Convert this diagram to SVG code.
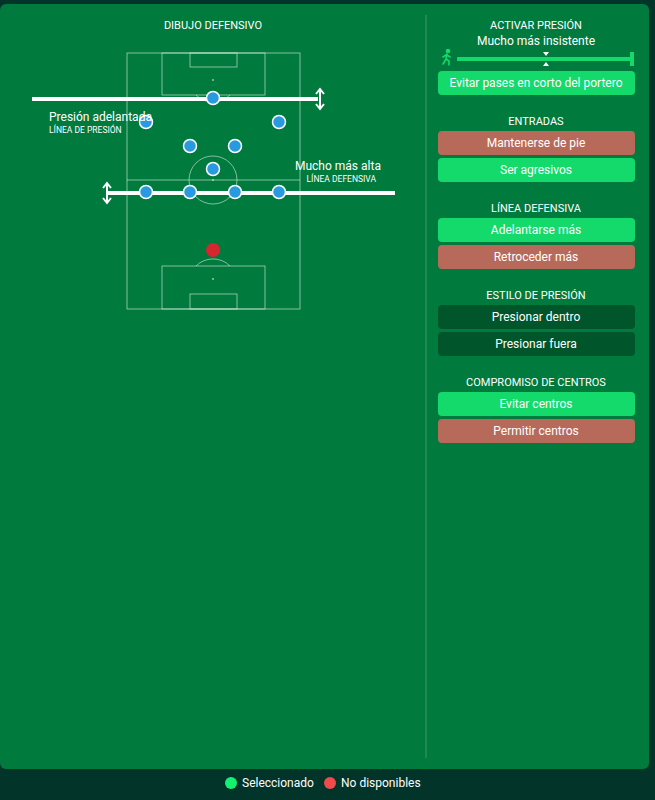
<svg xmlns="http://www.w3.org/2000/svg" width="655" height="800" viewBox="0 0 655 800">
<style>
text{font-family:Roboto,"Liberation Sans",sans-serif;fill:#fff}
.h{font-size:11px;text-anchor:middle}
.b{font-size:12px;text-anchor:middle}
.pl{fill:none;stroke:#cfe6d6;stroke-width:0.8;opacity:0.8}
.g{fill:#14d96b}.r{fill:#b86a5a}.d{fill:#00552a}
.p{fill:#2a9ae0;stroke:#fff;stroke-width:1.5}
.ln{stroke:#fff;stroke-width:4}
</style>
<rect width="655" height="800" fill="#02342a"/>
<rect x="0" y="4" width="649" height="765" rx="6" fill="#007a3d"/>
<line x1="426" y1="15" x2="426" y2="758" stroke="#3a9a66" stroke-width="1"/>
<g id="pitch">
<rect class="pl" x="127" y="53" width="173" height="256"/>
<line class="pl" x1="127" y1="180" x2="300" y2="180"/>
<circle class="pl" cx="213" cy="180" r="24"/>
<rect class="pl" x="162" y="53" width="103" height="42"/>
<rect class="pl" x="190" y="53" width="47" height="14"/>
<path class="pl" d="M196 95 A24 24 0 0 0 230 95"/>
<rect class="pl" x="162" y="266" width="103" height="43"/>
<rect class="pl" x="190" y="294" width="47" height="15"/>
<path class="pl" d="M196 266 A24 24 0 0 1 230 266"/>
<circle cx="213" cy="80" r="0.8" fill="#fff"/><circle cx="213" cy="180" r="0.8" fill="#fff"/><circle cx="213" cy="279" r="0.8" fill="#fff"/>
</g>
<g id="connectors">
<line class="ln" x1="32" y1="99" x2="318" y2="99"/>
<path d="M320 90v18M316 94l4-5 4 5M316 104l4 5 4-5" stroke="#fff" stroke-width="2" fill="none"/>
<line class="ln" x1="107" y1="193" x2="395" y2="193"/>
<path d="M107 184v18M103 188l4-5 4 5M103 198l4 5 4-5" stroke="#fff" stroke-width="2" fill="none"/>
</g>
<g id="players">
<circle class="p" cx="213" cy="98" r="6.5"/>
<circle class="p" cx="146" cy="122" r="6.5"/><circle class="p" cx="279" cy="122" r="6.5"/>
<circle class="p" cx="190" cy="146" r="6.5"/><circle class="p" cx="235" cy="146" r="6.5"/>
<circle class="p" cx="213" cy="169" r="6.5"/>
<circle class="p" cx="146" cy="192" r="6.5"/><circle class="p" cx="190" cy="192" r="6.5"/><circle class="p" cx="235" cy="192" r="6.5"/><circle class="p" cx="279" cy="192" r="6.5"/>
<circle cx="213" cy="250" r="7" fill="#d8262e"/>
</g>
<text class="h" x="213" y="29">DIBUJO DEFENSIVO</text>
<text x="49" y="121" font-size="12">Presión adelantada</text>
<text x="49" y="133" font-size="8.5" fill="#cfe">LÍNEA DE PRESIÓN</text>
<text x="295" y="170" font-size="12">Mucho más alta</text>
<text x="376" y="182" font-size="8.5" text-anchor="end">LÍNEA DEFENSIVA</text>
<g id="presion">
<text class="h" x="536" y="29">ACTIVAR PRESIÓN</text>
<text class="b" x="536" y="45">Mucho más insistente</text>
<g stroke="#14d96b" stroke-width="1.6" fill="none" stroke-linecap="round"><circle cx="448" cy="51" r="1.5" fill="#14d96b"/><path d="M447 54l-1 5 3 2v4M446 59l-3 5M446 55l-3 2M447 55l3 2"/></g>
<rect x="457" y="57" width="176" height="4" class="g"/>
<rect x="630" y="52" width="4" height="14" class="g"/>
<path d="M543 52h6l-3 4zM543 66h6l-3-4z" fill="#fff"/>
<rect x="438" y="71" width="197" height="24" rx="4" class="g"/><text class="b" x="536" y="87">Evitar pases en corto del portero</text>
</g>
<g id="entradas">
<text class="h" x="536" y="125">ENTRADAS</text>
<rect x="438" y="131" width="197" height="24" rx="4" class="r"/><text class="b" x="536" y="147">Mantenerse de pie</text>
<rect x="438" y="158" width="197" height="24" rx="4" class="g"/><text class="b" x="536" y="174">Ser agresivos</text>
</g>
<g id="linea">
<text class="h" x="536" y="212">LÍNEA DEFENSIVA</text>
<rect x="438" y="218" width="197" height="24" rx="4" class="g"/><text class="b" x="536" y="234">Adelantarse más</text>
<rect x="438" y="245" width="197" height="24" rx="4" class="r"/><text class="b" x="536" y="261">Retroceder más</text>
</g>
<g id="estilo">
<text class="h" x="536" y="299">ESTILO DE PRESIÓN</text>
<rect x="438" y="305" width="197" height="24" rx="4" class="d"/><text class="b" x="536" y="321">Presionar dentro</text>
<rect x="438" y="332" width="197" height="24" rx="4" class="d"/><text class="b" x="536" y="348">Presionar fuera</text>
</g>
<g id="centros">
<text class="h" x="536" y="386">COMPROMISO DE CENTROS</text>
<rect x="438" y="392" width="197" height="24" rx="4" class="g"/><text class="b" x="536" y="408">Evitar centros</text>
<rect x="438" y="419" width="197" height="24" rx="4" class="r"/><text class="b" x="536" y="435">Permitir centros</text>
</g>
<g id="legend">
<circle cx="231" cy="783" r="6" fill="#14f070"/><text x="242" y="787" font-size="12">Seleccionado</text>
<circle cx="330" cy="783" r="6" fill="#f04a4a"/><text x="341" y="787" font-size="12">No disponibles</text>
</g>
</svg>
